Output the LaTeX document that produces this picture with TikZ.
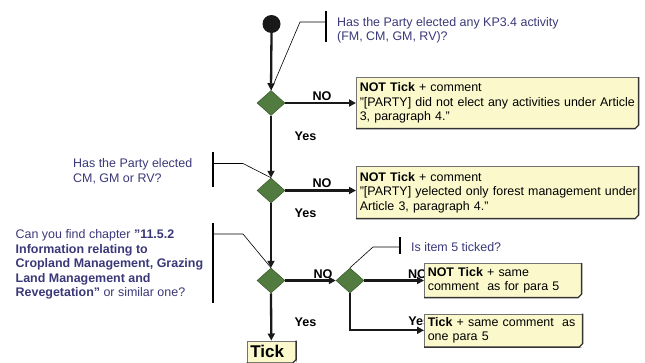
\documentclass[tikz,border=0pt]{standalone}
\usepackage{fontspec}
\setmainfont{Liberation Sans}
\usetikzlibrary{shapes.geometric,arrows.meta,calc}
\definecolor{qblue}{RGB}{58,56,120}
\definecolor{boxyel}{RGB}{251,249,204}
\definecolor{dgreen}{RGB}{82,123,63}
\definecolor{dgreenline}{RGB}{58,88,44}
\begin{document}
\begin{tikzpicture}[x=1pt,y=-1pt,
  font=\fontsize{12.45}{14.5}\selectfont,
  flow/.style={line width=2.3pt, draw=black!90, -{Triangle[length=7pt,width=7pt]}},
  dec/.style={diamond, fill=dgreen, draw=dgreenline, line width=0.5pt, inner sep=0pt,
    minimum width=28pt, minimum height=25pt},
  notebox/.style={rectangle, fill=boxyel, draw=black!55, line width=0.6pt,
    inner xsep=3.5pt, inner ysep=3pt, align=left, anchor=north west},
  lbl/.style={font=\fontsize{12.6}{14.5}\selectfont\bfseries, inner sep=0pt},
  ques/.style={text=qblue, align=left, anchor=north west, inner sep=0pt},
  callout/.style={line width=0.6pt, draw=black},
  calbar/.style={line width=1.1pt, draw=black},
  boxshade/.style={line width=1.3pt, draw=black!80}]
\useasboundingbox (0,0) rectangle (645,362);
\clip (0,0) rectangle (645,362);

% start and decisions
\node[circle, fill=black!90, minimum size=18pt, inner sep=0pt] (start) at (271.5,24) {};
\node[dec] (d1) at (271,103) {};
\node[dec] (d2) at (271,190.5) {};
\node[dec] (d3) at (271,280.5) {};
\node[dec] (d4) at (350,280.5) {};

% labels (drawn before boxes, partly hidden as in the reference)
\node[lbl] (no1) at (322,96) {NO};
\node[lbl] (yes1) at (305.5,136) {Yes};
\node[lbl] (no2) at (322,183) {NO};
\node[lbl] (yes2) at (305.5,213) {Yes};
\node[lbl] (no3) at (323,274) {NO};
\node[lbl] (no4) at (417.5,274) {NO};
\node[lbl] (yes3) at (305.5,322) {Yes};
\node[lbl] (yes4) at (419.2,321) {Yes};

% boxes
\node[notebox, minimum width=282pt, minimum height=51pt, text width=275pt] (box1) at (356,77)
  {\textbf{NOT Tick} + comment\\\mbox{"[PARTY] did not elect any activities under Article}\\3, paragraph 4."};
\node[notebox, minimum width=282pt, minimum height=52pt, text width=275pt] (box2) at (356,166)
  {\textbf{NOT Tick} + comment\\\mbox{"[PARTY] yelected only forest management under}\\Article 3, paragraph 4."};
\node[notebox, minimum width=157pt, minimum height=34pt, text width=150pt] (box3) at (424,263)
  {\textbf{NOT Tick} + same\\comment~ as for para 5};
\node[notebox, minimum width=158pt, minimum height=33pt, text width=151pt] (box4) at (424,313.5)
  {\textbf{Tick} + same comment~ as\\one para 5};
\node[notebox, minimum width=49pt, minimum height=22pt, text width=42pt,
  font=\fontsize{17}{18}\selectfont\bfseries] (tick) at (246.5,340.5) {Tick};

\foreach \b in {box1,box2,box3,box4,tick}{
  \fill[white] ([yshift=3.5pt]\b.south east) -- ([xshift=1pt,yshift=-1pt]\b.south east) -- ([xshift=-3.5pt]\b.south east) -- cycle;
  \draw[boxshade] (\b.north east) -- ([yshift=3.5pt]\b.south east) -- ([xshift=-3.5pt]\b.south east) -- (\b.south west);
}

% flow connectors
\draw[flow] (start.south) -- (d1.north);
\draw[flow] (d1.east) -- (d1.east -| box1.west);
\draw[flow] (d1.south) -- (d2.north);
\draw[flow] (d2.east) -- (d2.east -| box2.west);
\draw[flow] (d2.south) -- (d3.north);
\draw[flow] (d3.east) -- (d4.west);
\draw[flow] (d4.east) -- (d4.east -| box3.west);
\draw[flow] (d4.south) |- (box4.west);
\draw[flow] (d3.south) -- (tick.north);

% questions
\node[ques] (q1) at (337,17) {Has the Party elected any KP3.4 activity\\(FM, CM, GM, RV)?};
\node[ques] (q2) at (73,158.5) {Has the Party elected\\CM, GM or RV?};
\node[ques] (q3) at (15.5,229.3) {Can you find chapter \textbf{"11.5.2}\\\textbf{Information relating to}\\\textbf{Cropland Management, Grazing}\\\textbf{Land Management and}\\\textbf{Revegetation"} or similar one?};
\node[ques] (q4) at (411,242) {Is item 5 ticked?};

% callouts
\coordinate (c1t) at (326,11); \coordinate (c1b) at (326,42);
\coordinate (c1m) at (326,22); \coordinate (c1k) at (300,22);
\draw[calbar] (c1t) -- (c1b);
\draw[callout] (c1m) -- (c1k) -- (d1.north);

\coordinate (c2t) at (213,152); \coordinate (c2b) at (213,187);
\coordinate (c2m) at (213,163.5); \coordinate (c2k) at (243,163.5);
\draw[calbar] (c2t) -- (c2b);
\draw[callout] (c2m) -- (c2k) -- (d2.north);

\coordinate (c3t) at (213,223); \coordinate (c3b) at (213,303);
\coordinate (c3m) at (213,234); \coordinate (c3k) at (243,234);
\draw[calbar] (c3t) -- (c3b);
\draw[callout] (c3m) -- (c3k) -- (d3.north);

\coordinate (c4t) at (400,237); \coordinate (c4b) at (400,253.5);
\coordinate (c4m) at (400,247); \coordinate (c4k) at (373,247);
\draw[calbar] (c4t) -- (c4b);
\draw[callout] (c4m) -- (c4k) -- (d4.north);
\end{tikzpicture}
\end{document}
